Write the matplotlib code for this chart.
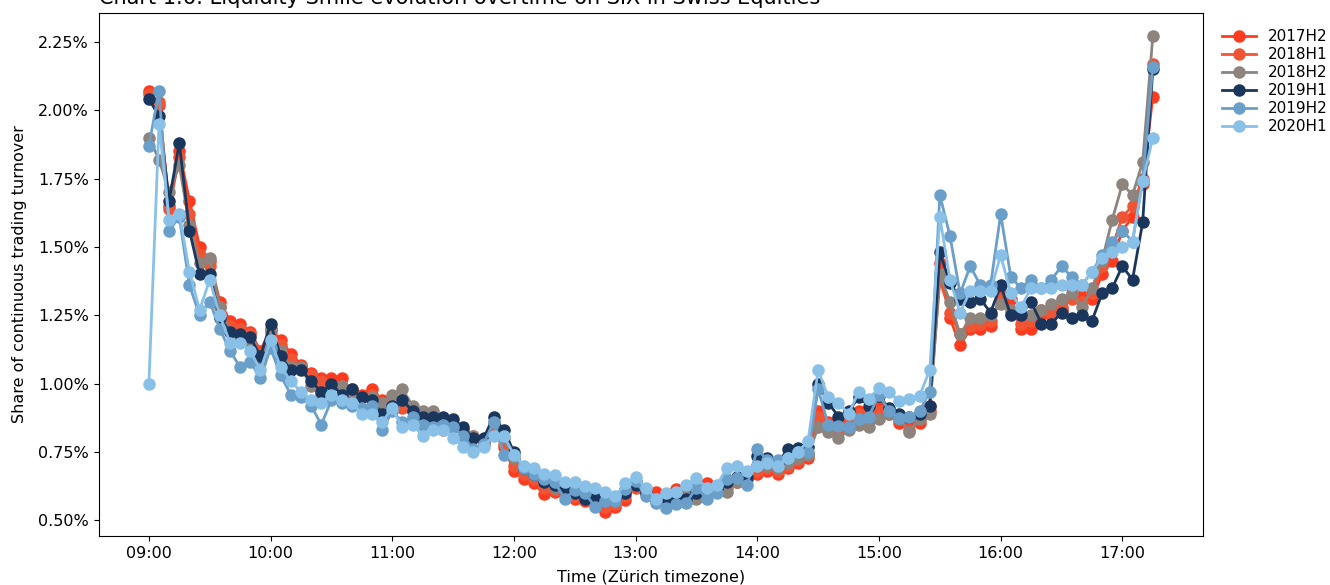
import matplotlib
matplotlib.use("Agg")
import matplotlib.pyplot as plt
import matplotlib.dates as mdates
from matplotlib.ticker import PercentFormatter
import pandas as pd

# 5-minute buckets of continuous trading, 09:00 - 17:15
times = pd.date_range("2020-01-01 09:00", "2020-01-01 17:15", freq="5min")

# share of continuous trading turnover, in percent
s2017h2 = [2.07, 2.02, 1.65, 1.85, 1.67, 1.50, 1.45, 1.30, 1.23, 1.22,
           1.19, 1.12, 1.20, 1.16, 1.11, 1.07, 1.04, 1.02, 1.02, 1.02,
           0.97, 0.96, 0.98, 0.94, 0.91, 0.92, 0.90, 0.86, 0.86, 0.83,
           0.84, 0.83, 0.80, 0.79, 0.84, 0.77, 0.68, 0.65, 0.635, 0.595,
           0.605, 0.60, 0.58, 0.57, 0.56, 0.53, 0.55, 0.575, 0.63, 0.60,
           0.605, 0.58, 0.615, 0.59, 0.62, 0.635, 0.62, 0.635, 0.64, 0.65,
           0.67, 0.68, 0.67, 0.69, 0.71, 0.73, 0.90, 0.86, 0.84, 0.875,
           0.90, 0.89, 0.92, 0.90, 0.855, 0.85, 0.855, 0.90, 1.44, 1.24,
           1.14, 1.20, 1.20, 1.21, 1.33, 1.31, 1.20, 1.20, 1.25, 1.25,
           1.27, 1.35, 1.32, 1.31, 1.40, 1.45, 1.56, 1.61, 1.73, 2.05]
s2018h1 = [2.06, 2.03, 1.64, 1.83, 1.62, 1.47, 1.43, 1.28, 1.21, 1.20,
           1.18, 1.11, 1.19, 1.14, 1.09, 1.06, 1.03, 1.01, 1.00, 0.99,
           0.98, 0.95, 0.96, 0.93, 0.92, 0.91, 0.90, 0.87, 0.86, 0.85,
           0.84, 0.83, 0.81, 0.78, 0.83, 0.78, 0.70, 0.67, 0.65, 0.62,
           0.61, 0.60, 0.59, 0.58, 0.57, 0.55, 0.56, 0.59, 0.62, 0.60,
           0.58, 0.57, 0.58, 0.60, 0.60, 0.61, 0.61, 0.62, 0.64, 0.65,
           0.68, 0.69, 0.68, 0.70, 0.72, 0.74, 0.88, 0.85, 0.83, 0.86,
           0.89, 0.88, 0.90, 0.89, 0.87, 0.83, 0.87, 0.92, 1.38, 1.26,
           1.18, 1.21, 1.22, 1.23, 1.31, 1.26, 1.22, 1.23, 1.27, 1.26,
           1.28, 1.31, 1.30, 1.33, 1.43, 1.50, 1.61, 1.65, 1.75, 2.17]
s2018h2 = [1.90, 1.82, 1.70, 1.80, 1.58, 1.44, 1.46, 1.28, 1.19, 1.17,
           1.15, 1.08, 1.20, 1.12, 1.06, 1.06, 0.99, 0.96, 0.99, 0.99,
           0.96, 0.95, 0.95, 0.93, 0.96, 0.98, 0.92, 0.90, 0.90, 0.86,
           0.85, 0.83, 0.81, 0.79, 0.86, 0.80, 0.73, 0.69, 0.665, 0.64,
           0.62, 0.61, 0.60, 0.59, 0.58, 0.57, 0.57, 0.61, 0.64, 0.60,
           0.58, 0.57, 0.58, 0.60, 0.58, 0.61, 0.61, 0.605, 0.64, 0.66,
           0.70, 0.70, 0.69, 0.71, 0.73, 0.74, 0.84, 0.825, 0.80, 0.83,
           0.85, 0.84, 0.87, 0.89, 0.87, 0.825, 0.87, 0.89, 1.40, 1.30,
           1.18, 1.24, 1.24, 1.25, 1.29, 1.27, 1.26, 1.25, 1.27, 1.29,
           1.31, 1.33, 1.28, 1.35, 1.45, 1.60, 1.73, 1.69, 1.81, 2.27]
s2019h1 = [2.04, 1.98, 1.67, 1.88, 1.56, 1.40, 1.40, 1.24, 1.19, 1.18,
           1.17, 1.10, 1.22, 1.10, 1.05, 1.05, 1.01, 0.97, 1.00, 0.96,
           0.98, 0.95, 0.94, 0.89, 0.92, 0.94, 0.90, 0.88, 0.88, 0.88,
           0.87, 0.84, 0.80, 0.80, 0.88, 0.83, 0.75, 0.69, 0.67, 0.64,
           0.63, 0.61, 0.60, 0.58, 0.59, 0.58, 0.575, 0.60, 0.63, 0.60,
           0.575, 0.565, 0.57, 0.58, 0.60, 0.61, 0.62, 0.64, 0.66, 0.66,
           0.735, 0.73, 0.71, 0.76, 0.765, 0.77, 1.00, 0.93, 0.88, 0.90,
           0.95, 0.92, 0.955, 0.91, 0.89, 0.88, 0.89, 0.92, 1.48, 1.37,
           1.31, 1.30, 1.31, 1.26, 1.36, 1.25, 1.25, 1.30, 1.22, 1.22,
           1.26, 1.24, 1.25, 1.23, 1.33, 1.35, 1.43, 1.38, 1.59, 2.15]
s2019h2 = [1.87, 2.07, 1.56, 1.61, 1.36, 1.25, 1.30, 1.20, 1.12, 1.06,
           1.08, 1.02, 1.13, 1.03, 0.96, 0.95, 0.92, 0.85, 0.94, 0.93,
           0.92, 0.91, 0.92, 0.83, 0.90, 0.86, 0.88, 0.85, 0.84, 0.85,
           0.84, 0.81, 0.76, 0.78, 0.86, 0.74, 0.74, 0.69, 0.67, 0.65,
           0.64, 0.58, 0.61, 0.60, 0.55, 0.57, 0.57, 0.615, 0.645, 0.59,
           0.565, 0.545, 0.56, 0.565, 0.62, 0.58, 0.60, 0.65, 0.655, 0.63,
           0.76, 0.72, 0.72, 0.73, 0.75, 0.75, 0.98, 0.85, 0.845, 0.84,
           0.87, 0.88, 0.96, 0.90, 0.875, 0.88, 0.90, 0.97, 1.69, 1.54,
           1.33, 1.43, 1.36, 1.36, 1.62, 1.39, 1.35, 1.38, 1.35, 1.38,
           1.43, 1.39, 1.36, 1.41, 1.47, 1.52, 1.56, 1.52, 1.74, 2.16]
s2020h1 = [1.00, 1.95, 1.60, 1.62, 1.41, 1.27, 1.38, 1.25, 1.15, 1.15,
           1.12, 1.05, 1.16, 1.06, 1.01, 0.97, 0.94, 0.93, 0.96, 0.94,
           0.93, 0.89, 0.89, 0.86, 0.91, 0.84, 0.85, 0.81, 0.83, 0.83,
           0.80, 0.77, 0.75, 0.77, 0.81, 0.81, 0.74, 0.70, 0.69, 0.67,
           0.665, 0.64, 0.64, 0.625, 0.62, 0.605, 0.59, 0.635, 0.66, 0.62,
           0.58, 0.60, 0.605, 0.63, 0.655, 0.62, 0.63, 0.69, 0.70, 0.68,
           0.70, 0.71, 0.70, 0.73, 0.75, 0.79, 1.05, 0.95, 0.93, 0.89,
           0.97, 0.945, 0.985, 0.97, 0.935, 0.945, 0.955, 1.05, 1.61, 1.38,
           1.26, 1.34, 1.34, 1.34, 1.47, 1.33, 1.28, 1.35, 1.35, 1.35,
           1.36, 1.36, 1.36, 1.41, 1.46, 1.48, 1.50, 1.52, 1.74, 1.90]

series = {
    "2017H2": (s2017h2, "#ff3b1f"),
    "2018H1": (s2018h1, "#ef5535"),
    "2018H2": (s2018h2, "#8c847d"),
    "2019H1": (s2019h1, "#1b365d"),
    "2019H2": (s2019h2, "#6a9fca"),
    "2020H1": (s2020h1, "#88c0e8"),
}

fig = plt.figure(figsize=(13.3, 5.85), dpi=100)
ax = fig.add_axes([0.0742, 0.0838, 0.8303, 0.8945])

for label, (vals, color) in series.items():
    ax.plot(times, vals, marker="o", markersize=8, linewidth=2,
            color=color, label=label)

ax.xaxis.set_major_locator(mdates.HourLocator())
ax.xaxis.set_major_formatter(mdates.DateFormatter("%H:%M"))
ax.yaxis.set_major_formatter(PercentFormatter(xmax=100, decimals=2))
ax.tick_params(labelsize=11.5)

ax.set_xlabel("Time (Zürich timezone)", fontsize=11.5, labelpad=6)
ax.set_ylabel("Share of continuous trading turnover", fontsize=11.5, labelpad=8)
# the title sits partly above the top edge, as in the source image
ax.set_title("Chart 1.6: Liquidity Smile evolution overtime on SIX in Swiss Equities",
             loc="left", fontsize=15, pad=6)

ax.legend(loc="upper left", bbox_to_anchor=(1.005, 0.995), frameon=False,
          fontsize=11, labelspacing=0.2, handlelength=2.2)

fig.savefig("out.png", dpi=100)
